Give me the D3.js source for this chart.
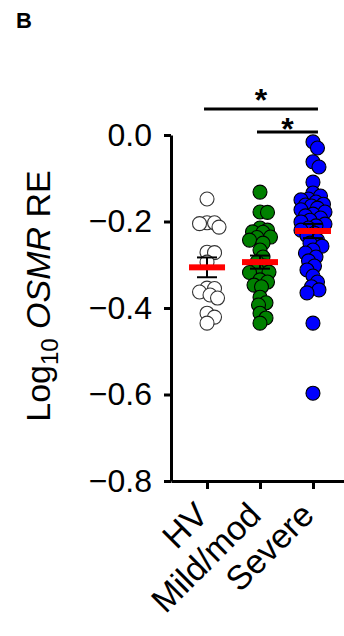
<!DOCTYPE html>
<html>
<head>
<meta charset="utf-8">
<script src="https://cdn.jsdelivr.net/npm/d3@7"></script>
<style>
  body { margin: 0; background: #fff; }
  svg { display: block; font-family: "Liberation Sans", Arial, sans-serif; }
</style>
</head>
<body>
<div id="chart"></div>
<script>
// values (log10 OSMR relative expression)
const categories = ["HV", "Mild/mod", "Severe"];

const hvValues = [-0.148, -0.203, -0.203, -0.205, -0.213, -0.271, -0.272, -0.294,
  -0.354, -0.355, -0.363, -0.370, -0.377, -0.412, -0.421, -0.435];

const mildValues = [-0.132, -0.178, -0.179, -0.215, -0.220, -0.224, -0.225, -0.236,
  -0.237, -0.243, -0.250, -0.266, -0.282, -0.294, -0.303, -0.312, -0.317, -0.318,
  -0.335, -0.340, -0.347, -0.351, -0.375, -0.388, -0.393, -0.412, -0.423, -0.435];

const severeValues = [-0.016, -0.030, -0.062, -0.074, -0.109, -0.134, -0.141, -0.148,
  -0.150, -0.155, -0.160, -0.162, -0.164, -0.169, -0.173, -0.178, -0.183, -0.187,
  -0.192, -0.197, -0.201, -0.206, -0.210, -0.215, -0.220, -0.227, -0.233, -0.243,
  -0.250, -0.257, -0.266, -0.273, -0.282, -0.291, -0.303, -0.312, -0.326, -0.340,
  -0.351, -0.358, -0.365, -0.435, -0.597];

const yTicks = [0, -0.2, -0.4, -0.6, -0.8];

// significance brackets: [from, to, label]
const comparisons = [["HV", "Severe", "*"], ["Mild/mod", "Severe", "*"]];

const groups = [
  { name: "HV", values: hvValues, fill: "#ffffff", stroke: "#333" },
  { name: "Mild/mod", values: mildValues, fill: "#008000", stroke: "#000" },
  { name: "Severe", values: severeValues, fill: "#0000ff", stroke: "#000" }
];

const width = 344, height = 636;

const svg = d3.select("#chart").append("svg")
  .attr("width", width)
  .attr("height", height);

const y = d3.scaleLinear().domain([-0.8, 0]).range([481, 135]);
const x = d3.scalePoint().domain(categories).range([171, 349]).padding(0.68);

// panel letter
svg.append("text")
  .attr("x", 16).attr("y", 28)
  .style("font-size", "22px").style("font-weight", "bold")
  .text("B");

// y axis
const yAxis = svg.append("g")
  .attr("transform", "translate(171,0)")
  .call(d3.axisLeft(y).tickValues(yTicks).tickFormat(d3.format(".1f"))
    .tickSize(7).tickPadding(12).tickSizeOuter(0));
yAxis.select(".domain").attr("stroke-width", 3);
yAxis.selectAll(".tick line").attr("stroke-width", 3);
yAxis.selectAll(".tick text")
  .style("font-size", "32px")
  .style("font-family", "Liberation Sans, Arial, sans-serif");

// x axis
const xAxis = svg.append("g")
  .attr("transform", "translate(0,481)")
  .call(d3.axisBottom(x).tickSize(8).tickSizeOuter(0).tickFormat(""));
xAxis.select(".domain").attr("stroke-width", 3);
xAxis.selectAll(".tick line").attr("stroke-width", 3);

svg.append("g").selectAll("text")
  .data(categories)
  .join("text")
  .attr("transform", d => `translate(${x(d) + 3},${517}) rotate(-45)`)
  .attr("text-anchor", "end")
  .style("font-size", "34px")
  .text(d => d);

// y title
const title = svg.append("text")
  .attr("transform", "translate(50,296) rotate(-90)")
  .attr("text-anchor", "middle")
  .style("font-size", "34px");
title.append("tspan").text("Log");
title.append("tspan").attr("dy", 8).style("font-size", "24px").text("10");
title.append("tspan").attr("dy", -8).text(" ");
title.append("tspan").style("font-style", "italic").text("OSMR");
title.append("tspan").text(" RE");

// simple beeswarm: place each point as close to the centre as possible
function swarm(values, cx) {
  const minD = 7.5, step = 1.5, maxOff = 11;
  const pts = values.map(v => ({ v, py: y(v) })).sort((a, b) => a.py - b.py);
  const placed = [];
  pts.forEach(p => {
    let chosen = null, bestOff = 0, bestDist = -1;
    for (let k = 0; k <= 2 * Math.ceil(maxOff / step); k++) {
      const off = (k % 2 ? 1 : -1) * Math.ceil(k / 2) * step;
      let md = Infinity;
      placed.forEach(q => {
        const d = Math.hypot(cx + off - q.px, p.py - q.py);
        if (d < md) md = d;
      });
      if (md >= minD) { chosen = off; break; }
      if (md > bestDist) { bestDist = md; bestOff = off; }
    }
    p.px = cx + (chosen === null ? bestOff : chosen);
    placed.push(p);
  });
  return pts;
}

groups.forEach(g => {
  const cx = x(g.name);
  const pts = swarm(g.values, cx);
  svg.append("g").selectAll("circle")
    .data(pts)
    .join("circle")
    .attr("cx", d => d.px)
    .attr("cy", d => d.py)
    .attr("r", 7)
    .attr("fill", g.fill)
    .attr("stroke", g.stroke)
    .attr("stroke-width", 1.1);
});

// mean +/- SEM
groups.forEach(g => {
  const cx = x(g.name);
  const m = d3.mean(g.values);
  const sem = d3.deviation(g.values) / Math.sqrt(g.values.length);
  const e = svg.append("g").attr("stroke", "#000").attr("stroke-width", 2);
  e.append("line").attr("x1", cx).attr("x2", cx).attr("y1", y(m - sem)).attr("y2", y(m + sem));
  e.append("line").attr("x1", cx - 10).attr("x2", cx + 10).attr("y1", y(m - sem)).attr("y2", y(m - sem));
  e.append("line").attr("x1", cx - 10).attr("x2", cx + 10).attr("y1", y(m + sem)).attr("y2", y(m + sem));
  svg.append("rect")
    .attr("x", cx - 18).attr("width", 36)
    .attr("y", y(m) - 3).attr("height", 6)
    .attr("fill", "#ff0000");
});

// significance brackets
const bracketY = [109, 132];
const starGap = [16, 10];
comparisons.forEach((c, i) => {
  const x1 = x(c[0]) - 3, x2 = x(c[1]) + 5;
  svg.append("line")
    .attr("x1", x1).attr("x2", x2)
    .attr("y1", bracketY[i]).attr("y2", bracketY[i])
    .attr("stroke", "#000").attr("stroke-width", 3);
  svg.append("text")
    .attr("x", (x1 + x2) / 2).attr("y", bracketY[i] - starGap[i] + 18)
    .attr("text-anchor", "middle")
    .style("font-size", "32px").style("font-weight", "bold")
    .text(c[2]);
});
</script>
</body>
</html>
